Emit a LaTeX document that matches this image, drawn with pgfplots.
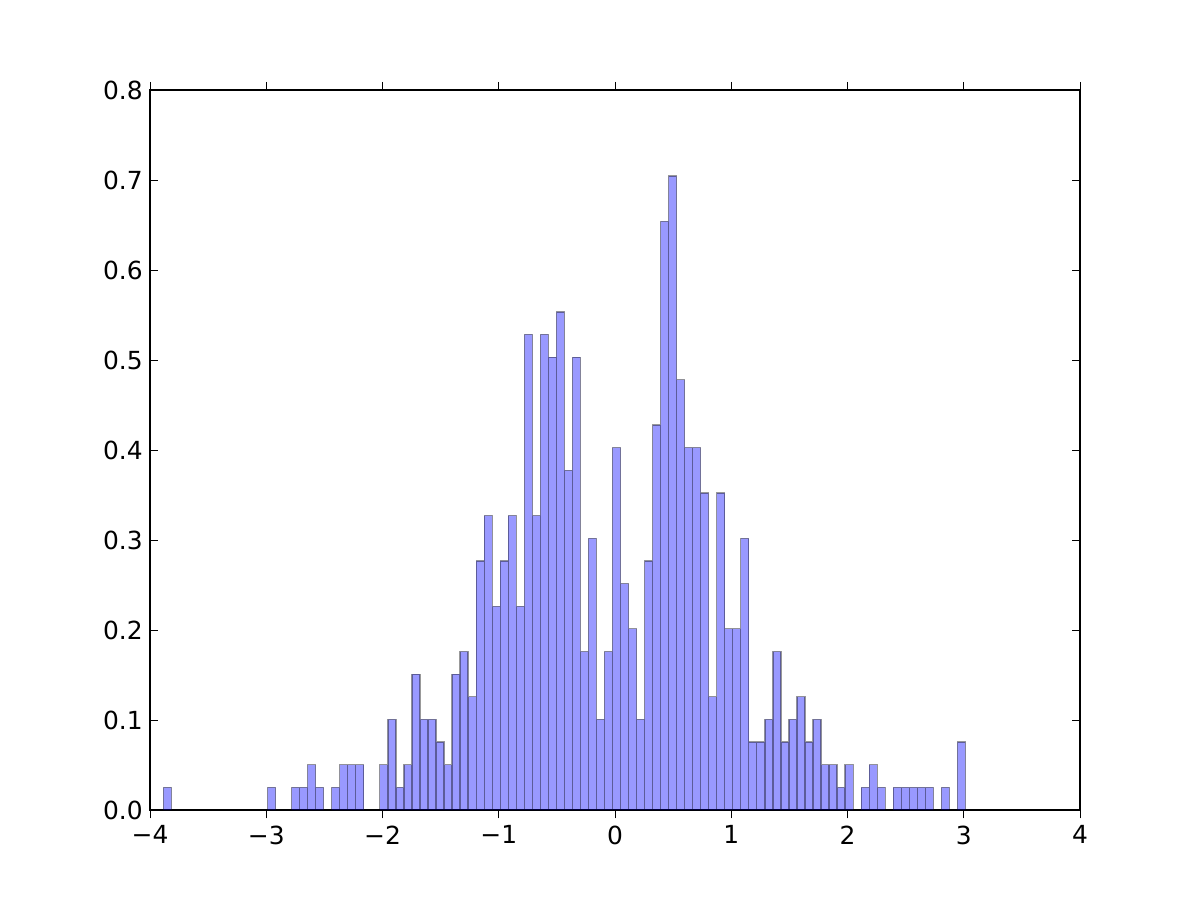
\documentclass[border=0pt]{standalone}
\usepackage{fontspec}
\setmainfont{DejaVu Sans}
\usepackage{pgfplots}
\pgfplotsset{compat=1.18}
\begin{document}
\begin{tikzpicture}
\begin{axis}[
  scale only axis, width=448.1pt, height=346.9pt,
  xmin=-4, xmax=4, ymin=0, ymax=0.8,
  xtick={-4,-3,-2,-1,0,1,2,3,4},
  xticklabels={−4,−3,−2,−1,0,1,2,3,4},
  ytick={0,0.1,0.2,0.3,0.4,0.5,0.6,0.7,0.8},
  yticklabels={0.0,0.1,0.2,0.3,0.4,0.5,0.6,0.7,0.8},
  tick align=inside, tick pos=both,
  major tick length=4pt,
  tick style={black, line width=0.5pt},
  axis line style={line width=1pt},
  ticklabel style={font=\fontsize{12}{14}\selectfont},
  ybar, bar width=0.069, bar shift=0pt,
]
\addplot[fill=blue, fill opacity=0.4, draw=black, draw opacity=0.4, line width=0.6pt] coordinates {
(-3.8515,0.0252)
(-2.9545,0.0252)
(-2.7475,0.0252)
(-2.6785,0.0252)
(-2.6095,0.0503)
(-2.5405,0.0252)
(-2.4025,0.0252)
(-2.3335,0.0503)
(-2.2645,0.0503)
(-2.1955,0.0503)
(-1.9885,0.0503)
(-1.9195,0.1006)
(-1.8505,0.0252)
(-1.7815,0.0503)
(-1.7125,0.1510)
(-1.6435,0.1006)
(-1.5745,0.1006)
(-1.5055,0.0755)
(-1.4365,0.0503)
(-1.3675,0.1510)
(-1.2985,0.1761)
(-1.2295,0.1258)
(-1.1605,0.2768)
(-1.0915,0.3271)
(-1.0225,0.2264)
(-0.9535,0.2768)
(-0.8845,0.3271)
(-0.8155,0.2264)
(-0.7465,0.5284)
(-0.6775,0.3271)
(-0.6085,0.5284)
(-0.5395,0.5032)
(-0.4705,0.5535)
(-0.4015,0.3774)
(-0.3325,0.5032)
(-0.2635,0.1761)
(-0.1945,0.3019)
(-0.1255,0.1006)
(-0.0565,0.1761)
(0.0125,0.4026)
(0.0815,0.2516)
(0.1505,0.2013)
(0.2195,0.1006)
(0.2885,0.2768)
(0.3575,0.4277)
(0.4265,0.6542)
(0.4955,0.7045)
(0.5645,0.4780)
(0.6335,0.4026)
(0.7025,0.4026)
(0.7715,0.3522)
(0.8405,0.1258)
(0.9095,0.3522)
(0.9785,0.2013)
(1.0475,0.2013)
(1.1165,0.3019)
(1.1855,0.0755)
(1.2545,0.0755)
(1.3235,0.1006)
(1.3925,0.1761)
(1.4615,0.0755)
(1.5305,0.1006)
(1.5995,0.1258)
(1.6685,0.0755)
(1.7375,0.1006)
(1.8065,0.0503)
(1.8755,0.0503)
(1.9445,0.0252)
(2.0135,0.0503)
(2.1515,0.0252)
(2.2205,0.0503)
(2.2895,0.0252)
(2.4275,0.0252)
(2.4965,0.0252)
(2.5655,0.0252)
(2.6345,0.0252)
(2.7035,0.0252)
(2.8415,0.0252)
(2.9795,0.0755)
};
\end{axis}
\path ([shift={(-72.3pt,-43.4pt)}]current axis.south west) rectangle ([shift={(57.8pt,43.4pt)}]current axis.north east);
\end{tikzpicture}
\end{document}
